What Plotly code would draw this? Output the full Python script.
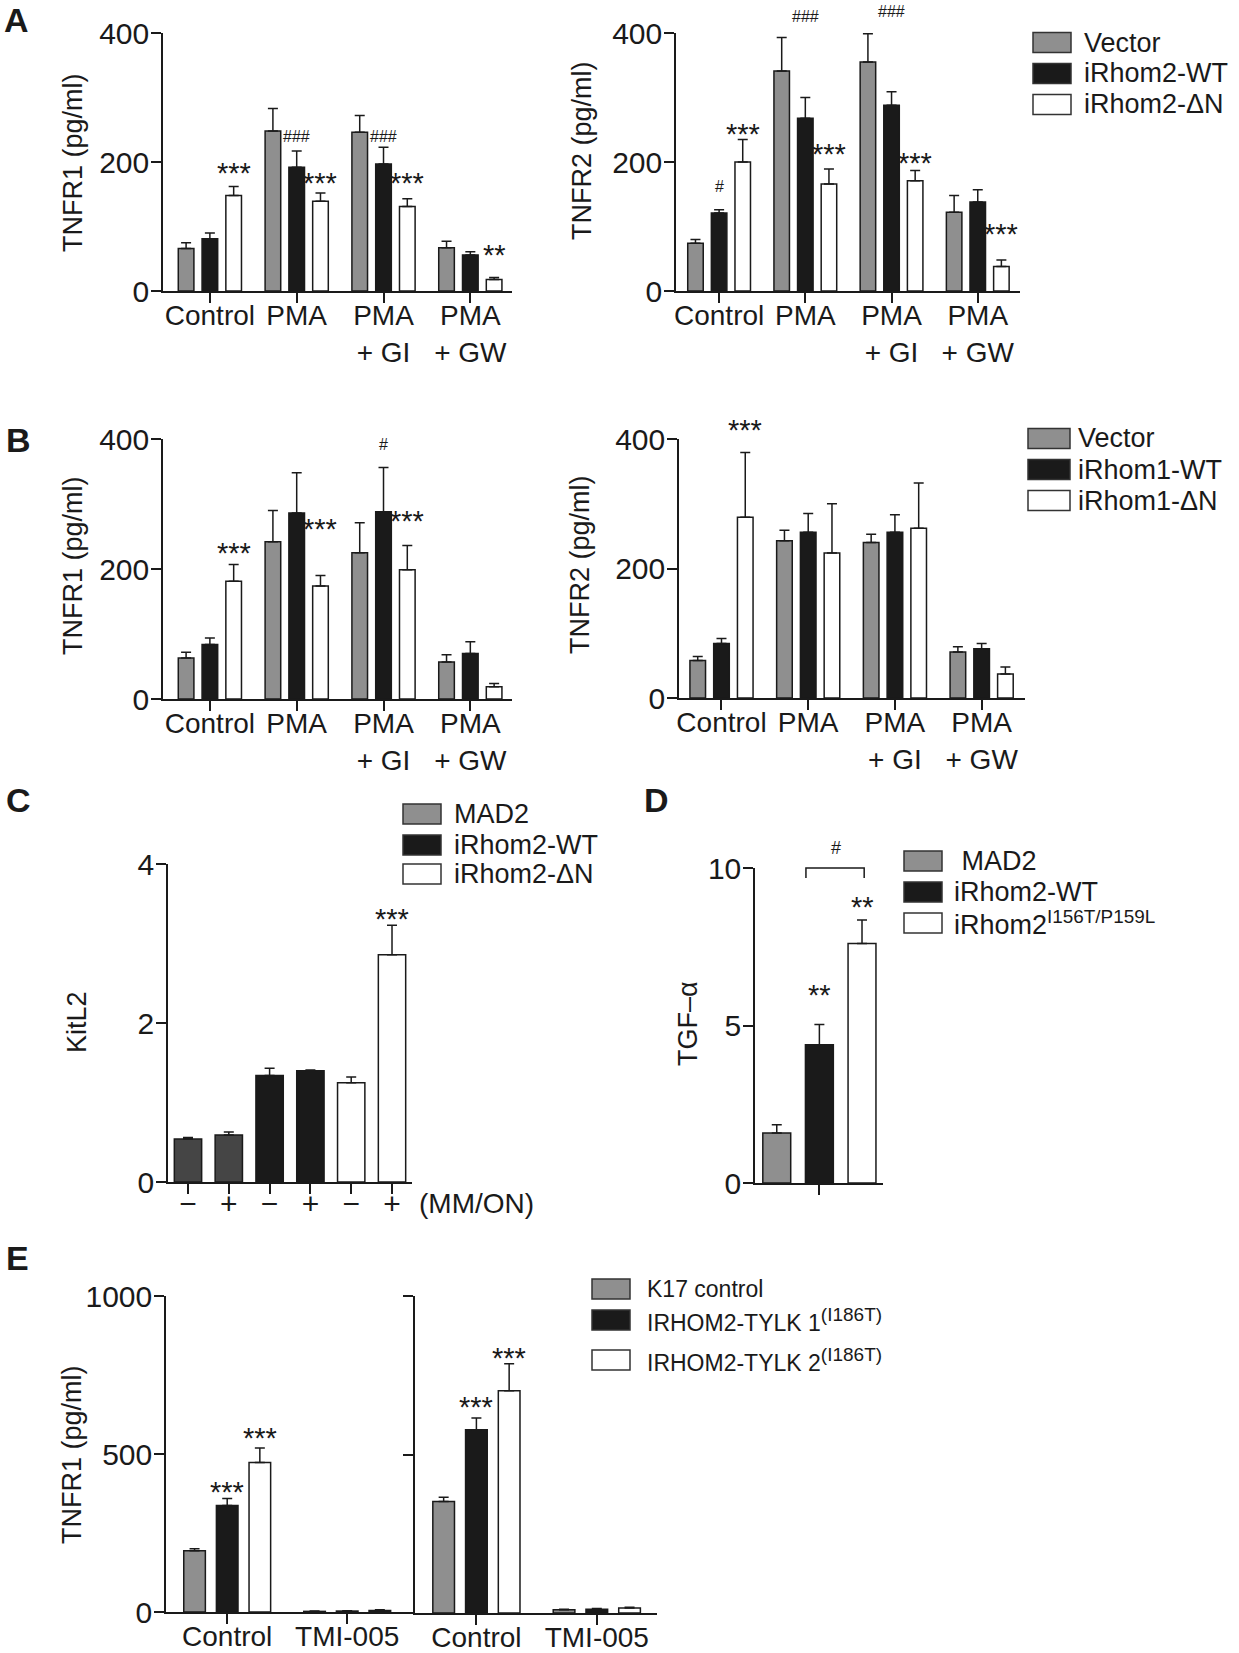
import plotly.graph_objects as go

W, H = 1239, 1653
FONT = "Liberation Sans, Arial, Helvetica, sans-serif"
INK = "#1a1a1a"
GRAY = "#8f8f8f"
DARKGRAY = "#454545"
BLACK = "#1a1a1a"
WHITE = "#ffffff"

# ---------------- data ----------------
cats_ab = ["Control", "PMA", "PMA<br>+ GI", "PMA<br>+ GW"]
series_a = ["Vector", "iRhom2-WT", "iRhom2-ΔN"]
series_b = ["Vector", "iRhom1-WT", "iRhom1-ΔN"]

# Panel A, TNFR1
a1_vector = [66, 248, 246, 67]
a1_vector_err = [9, 35, 26, 10]
a1_wt = [81, 192, 197, 56]
a1_wt_err = [9, 25, 26, 5]
a1_dn = [148, 139, 131, 18]
a1_dn_err = [14, 13, 12, 3]
# Panel A, TNFR2
a2_vector = [74, 341, 355, 122]
a2_vector_err = [6, 52, 44, 26]
a2_wt = [121, 268, 288, 138]
a2_wt_err = [5, 32, 21, 19]
a2_dn = [200, 166, 171, 38]
a2_dn_err = [35, 23, 16, 10]
# Panel B, TNFR1
b1_vector = [63, 242, 225, 57]
b1_vector_err = [9, 48, 46, 11]
b1_wt = [84, 286, 288, 70]
b1_wt_err = [10, 62, 68, 18]
b1_dn = [181, 174, 199, 19]
b1_dn_err = [26, 16, 37, 5]
# Panel B, TNFR2
b2_vector = [58, 243, 240, 71]
b2_vector_err = [6, 16, 13, 8]
b2_wt = [84, 256, 256, 76]
b2_wt_err = [8, 29, 27, 8]
b2_dn = [279, 224, 262, 37]
b2_dn_err = [100, 76, 70, 11]

# Panel C, KitL2
c_conditions = ["−", "+"]
series_c = ["MAD2", "iRhom2-WT", "iRhom2-ΔN"]
c_mad2 = [0.54, 0.59]
c_mad2_err = [0.02, 0.04]
c_wt = [1.34, 1.40]
c_wt_err = [0.09, 0.01]
c_dn = [1.25, 2.86]
c_dn_err = [0.07, 0.37]

# Panel D, TGF-alpha
series_d = [" MAD2", "iRhom2-WT", "iRhom2<sup>I156T/P159L</sup>"]
d_values = [1.59, 4.39, 7.60]
d_err = [0.26, 0.64, 0.75]

# Panel E, TNFR1
cats_e = ["Control", "TMI-005"]
series_e = ["K17 control",
            "IRHOM2-TYLK 1<sup><span style='font-size:19px'>(I186T)</span></sup>",
            "IRHOM2-TYLK 2<sup><span style='font-size:19px'>(I186T)</span></sup>"]
e1_k17 = [194, 2]
e1_k17_err = [6, 1]
e1_t1 = [337, 3]
e1_t1_err = [22, 1]
e1_t2 = [473, 5]
e1_t2_err = [46, 2]
e2_k17 = [352, 10]
e2_k17_err = [13, 2]
e2_t1 = [578, 12]
e2_t1_err = [37, 2]
e2_t2 = [701, 16]
e2_t2_err = [85, 2]

# significance marks: (subplot, category, series, y-value, text)
sig_marks = [
    (1, 0, 2, 194, "***"), (1, 1, 1, 240, "###"), (1, 1, 2, 178, "***"),
    (1, 2, 1, 240, "###"), (1, 2, 2, 178, "***"), (1, 3, 2, 66, "**"),
    (2, 0, 1, 162, "#"), (2, 0, 2, 255, "***"), (2, 1, 1, 425, "###"),
    (2, 1, 2, 224, "***"), (2, 2, 1, 434, "###"), (2, 2, 2, 209, "***"),
    (2, 3, 2, 100, "***"),
    (3, 0, 2, 235, "***"), (3, 1, 2, 272, "***"), (3, 2, 1, 391, "#"),
    (3, 2, 2, 285, "***"),
    (4, 0, 2, 425, "***"),
    (7, 0, 1, 402, "***"), (7, 0, 2, 574, "***"),
    (8, 0, 1, 672, "***"), (8, 0, 2, 825, "***"),
]
c_sig = (5, 3.40, "***")           # (bar index, y, text)
d_sig = [(1, 6.19, "**"), (2, 8.97, "**")]
d_bracket = dict(x0=-0.105, x1=0.35, top=10.0, leg=9.68, label="#", label_y=10.64, label_x=0.13)

# ---------------- layout helpers ----------------
fig = go.Figure()
YMAX = {}


def dom_x(x0, x1):
    return [x0 / W, x1 / W]


def dom_y(ytop, ybot):
    return [1 - ybot / H, 1 - ytop / H]


def px(x):
    return x / W


def py(y):
    return 1 - y / H


axis_common = dict(showline=True, linecolor=INK, linewidth=1.5, ticks="outside",
                   ticklen=10, tickwidth=1.5, tickcolor=INK, showgrid=False,
                   zeroline=False, fixedrange=True, automargin=False)


def set_axes(i, xpx, ypx, xr, yr, xtv, xtt, ytv, xfont=28, yfont=30, ylabels=True,
             xlabels=True, xstand=-11):
    xname = "xaxis" if i == 1 else f"xaxis{i}"
    yname = "yaxis" if i == 1 else f"yaxis{i}"
    YMAX[i] = yr[1]
    xa = dict(axis_common, domain=dom_x(*xpx), range=xr, anchor=f"y{i}",
              tickmode="array", tickvals=xtv, showticklabels=xlabels,
              tickfont=dict(family=FONT, size=xfont, color=INK))
    if xlabels:
        xa.update(ticktext=xtt, ticklabelstandoff=xstand)
    ya = dict(axis_common, domain=dom_y(*ypx), range=yr, anchor=f"x{i}",
              tickmode="array", tickvals=ytv, showticklabels=ylabels,
              tickfont=dict(family=FONT, size=yfont, color=INK))
    if ylabels:
        ya.update(ticklabelstandoff=-4)
    fig.update_layout(**{xname: xa, yname: ya})


def add_bars(i, xs, ys, errs, color, offset_center, width, name):
    fig.add_trace(go.Bar(
        x=xs, y=ys, name=name, xaxis=f"x{i}", yaxis=f"y{i}",
        width=width, offset=offset_center - width / 2,
        marker=dict(color=color, line=dict(color=INK, width=1.5)),
        error_y=dict(type="data", array=errs, arrayminus=[0] * len(errs), symmetric=False,
                     color=INK, thickness=1.5, width=5),
        cliponaxis=False, showlegend=False, hoverinfo="skip"))


def add_group(i, cats, series_names, vals, errs, colors, pitch, width):
    xs = list(range(len(cats)))
    for s, (nm, v, e, c) in enumerate(zip(series_names, vals, errs, colors)):
        add_bars(i, xs, v, e, c, (s - 1) * pitch, width, nm)


def add_legend(x0, x1, rows_y, box_h, text_x, names, colors, size):
    for yc, nm, col in zip(rows_y, names, colors):
        fig.add_shape(type="rect", xref="paper", yref="paper",
                      x0=px(x0), x1=px(x1), y0=py(yc + box_h / 2), y1=py(yc - box_h / 2),
                      fillcolor=col, line=dict(color="#333333", width=1.5))
        fig.add_annotation(x=px(text_x), y=py(yc), xref="paper", yref="paper", text=nm,
                           showarrow=False, xanchor="left", yanchor="middle",
                           font=dict(family=FONT, size=size, color=INK))


def text_ann(x, y, text, size, angle=0, bold=False, xanchor="center"):
    fig.add_annotation(x=px(x), y=py(y), xref="paper", yref="paper",
                       text=f"<b>{text}</b>" if bold else text, showarrow=False,
                       textangle=angle, xanchor=xanchor, yanchor="middle",
                       font=dict(family=FONT, size=size, color=INK))


def sig(i, x, y, text, size=None):
    star = "*" in text
    fs = size if size else (29 if star else 16)
    ymax = YMAX[i]
    if y > ymax:
        yref, yy = f"y{i} domain", y / ymax
    else:
        yref, yy = f"y{i}", y
    fig.add_annotation(x=x, y=yy, xref=f"x{i}", yref=yref, text=text, showarrow=False,
                       xanchor="center", yanchor="middle", yshift=-7 if star else 0,
                       font=dict(family=FONT, size=fs, color=INK))


PITCH_AB = 0.274
WIDTH_AB = 0.18
colors3 = [GRAY, BLACK, WHITE]

# ---- Panel A ----
set_axes(1, (163, 512), (33, 291), [-0.54, 3.48], [0, 400], list(range(4)), cats_ab, [0, 200, 400])
add_group(1, cats_ab, series_a, [a1_vector, a1_wt, a1_dn], [a1_vector_err, a1_wt_err, a1_dn_err],
          colors3, PITCH_AB, WIDTH_AB)
set_axes(2, (676, 1020), (33, 291), [-0.5, 3.49], [0, 400], list(range(4)), cats_ab, [0, 200, 400])
add_group(2, cats_ab, series_a, [a2_vector, a2_wt, a2_dn], [a2_vector_err, a2_wt_err, a2_dn_err],
          colors3, PITCH_AB, WIDTH_AB)
add_legend(1033, 1071, [42.5, 73.5, 104.5], 20, 1082, series_a, colors3, 27)

# ---- Panel B ----
set_axes(3, (163, 512), (439, 699), [-0.54, 3.48], [0, 400], list(range(4)), cats_ab, [0, 200, 400])
add_group(3, cats_ab, series_b, [b1_vector, b1_wt, b1_dn], [b1_vector_err, b1_wt_err, b1_dn_err],
          colors3, PITCH_AB, WIDTH_AB)
set_axes(4, (679, 1025), (439, 698), [-0.49, 3.5], [0, 400], list(range(4)), cats_ab, [0, 200, 400])
add_group(4, cats_ab, series_b, [b2_vector, b2_wt, b2_dn], [b2_vector_err, b2_wt_err, b2_dn_err],
          colors3, PITCH_AB, WIDTH_AB)
add_legend(1028, 1070, [438.5, 469.5, 500.5], 20, 1076, series_b, colors3, 27)

# ---- Panel C ----
c_series_vals = [c_mad2, c_wt, c_dn]
c_series_errs = [c_mad2_err, c_wt_err, c_dn_err]
c_bar_colors = [DARKGRAY, BLACK, WHITE]
n_c = len(series_c) * len(c_conditions)
set_axes(5, (168, 412), (864, 1182), [-0.49, 5.49], [0, 4], list(range(n_c)),
         c_conditions * len(series_c), [0, 2, 4], xfont=30, yfont=30, xstand=-16)
for s, (nm, v, e, col) in enumerate(zip(series_c, c_series_vals, c_series_errs, c_bar_colors)):
    xs = [s * len(c_conditions) + k for k in range(len(c_conditions))]
    add_bars(5, xs, v, e, col, 0, 0.67, nm)
add_legend(403, 441, [814, 845, 874], 20, 452, series_c, colors3, 27)
text_ann(417, 1203, "(MM/ON)", 28, xanchor="left")

# ---- Panel D ----
set_axes(6, (755, 883), (868, 1183), [-0.503, 0.497], [0, 10], [0], [""], [0, 5, 10],
         yfont=30, xlabels=False)
for s, (nm, v, e, col) in enumerate(zip(series_d, d_values, d_err, colors3)):
    add_bars(6, [0], [v], [e], col, (s - 1) * 0.333, 0.218, nm.strip())
fig.add_shape(type="path", xref="x6", yref="y6 domain",
              path=(f"M {d_bracket['x0']},{d_bracket['leg'] / 10} L {d_bracket['x0']},{d_bracket['top'] / 10} "
                    f"L {d_bracket['x1']},{d_bracket['top'] / 10} L {d_bracket['x1']},{d_bracket['leg'] / 10}"),
              line=dict(color=INK, width=1.5))
add_legend(904, 942, [861, 892, 923], 20, 952, series_d, colors3, 27)

# ---- Panel E ----
set_axes(7, (166, 406), (1296, 1612), [-0.51, 1.49], [0, 1000], list(range(2)), cats_e,
         [0, 500, 1000])
add_group(7, cats_e, series_e, [e1_k17, e1_t1, e1_t2], [e1_k17_err, e1_t1_err, e1_t2_err],
          colors3, 0.272, 0.18)
set_axes(8, (415, 657), (1296, 1613), [-0.51, 1.5], [0, 1000], list(range(2)), cats_e,
         [0, 500, 1000], ylabels=False)
add_group(8, cats_e, series_e, [e2_k17, e2_t1, e2_t2], [e2_k17_err, e2_t1_err, e2_t2_err],
          colors3, 0.272, 0.18)
add_legend(592, 630, [1289, 1320, 1360], 20, 645, series_e, colors3, 23)

# ---- significance marks ----
for (i, cat, s, yv, t) in sig_marks:
    p = PITCH_AB if i <= 4 else 0.272
    sig(i, cat + (s - 1) * p, yv, t)
sig(5, c_sig[0], c_sig[1], c_sig[2])
for (s, yv, t) in d_sig:
    sig(6, (s - 1) * 0.333, yv, t)
sig(6, d_bracket["label_x"], d_bracket["label_y"], d_bracket["label"], size=18)

# ---- axis titles ----
text_ann(73, 163, "TNFR1 (pg/ml)", 27, angle=-90)
text_ann(582, 151, "TNFR2 (pg/ml)", 27, angle=-90)
text_ann(73, 566, "TNFR1 (pg/ml)", 27, angle=-90)
text_ann(580, 565, "TNFR2 (pg/ml)", 27, angle=-90)
text_ann(77, 1022, "KitL2", 27, angle=-90)
text_ann(688, 1024, "TGF–α", 27, angle=-90)
text_ann(72, 1455, "TNFR1 (pg/ml)", 27, angle=-90)

# ---- panel letters ----
for letter, (lx, ly) in {"A": (16, 20), "B": (18, 440), "C": (18, 800), "D": (656, 800), "E": (17, 1258)}.items():
    text_ann(lx, ly, letter, 34, bold=True)

fig.update_layout(width=W, height=H, autosize=False, margin=dict(l=0, r=0, t=0, b=0, pad=0),
                  paper_bgcolor="white", plot_bgcolor="rgba(0,0,0,0)", showlegend=False,
                  barmode="group", font=dict(family=FONT, color=INK))

fig.write_html("out.html", config={"displayModeBar": False},
               post_script="document.body.style.margin='0';")
